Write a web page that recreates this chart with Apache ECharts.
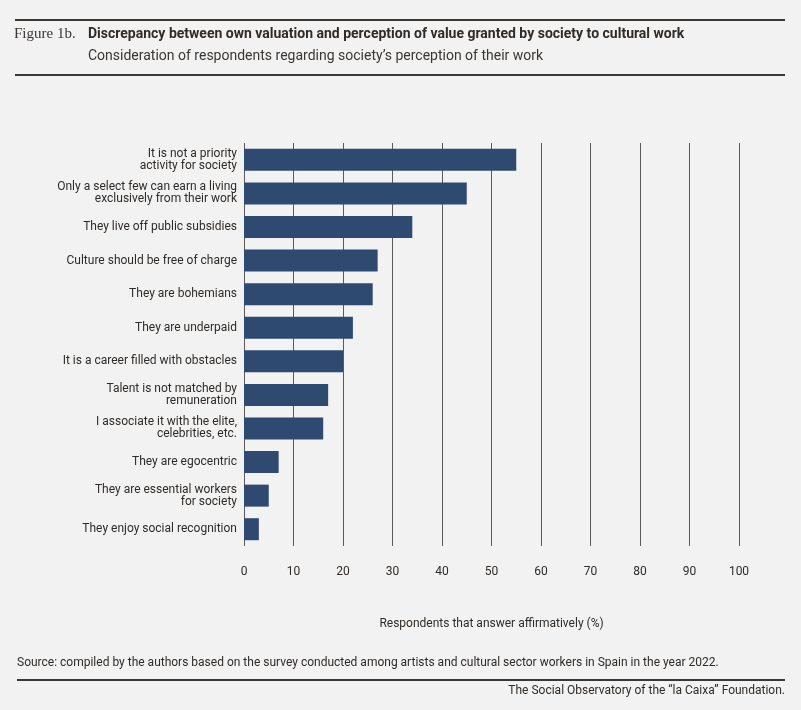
<!DOCTYPE html>
<html>
<head>
<meta charset="utf-8">
<script src="https://cdn.jsdelivr.net/npm/echarts@6/dist/echarts.min.js"></script>
<style>
html,body{margin:0;padding:0;background:#f2f2f2;}
#chart{width:801px;height:710px;}
</style>
</head>
<body>
<div id="chart"></div>
<script>
var categories = [
    'It is not a priority\nactivity for society',
    'Only a select few can earn a living\nexclusively from their work',
    'They live off public subsidies',
    'Culture should be free of charge',
    'They are bohemians',
    'They are underpaid',
    'It is a career filled with obstacles',
    'Talent is not matched by\nremuneration',
    'I associate it with the elite,\ncelebrities, etc.',
    'They are egocentric',
    'They are essential workers\nfor society',
    'They enjoy social recognition'
];
var values = [55, 45, 34, 27, 26, 22, 20, 17, 16, 7, 5, 3];
var ticks = [0, 10, 20, 30, 40, 50, 60, 70, 80, 90, 100];

var myChart = echarts.init(document.getElementById('chart'));
var font = 'Roboto, "Liberation Sans", sans-serif';

var option = {
    backgroundColor: '#f2f2f2',
    textStyle: {fontFamily: font},
    graphic: [
        {type: 'line', shape: {x1: 15, y1: 20, x2: 785, y2: 20}, style: {stroke: '#3a3633', lineWidth: 2}},
        {type: 'line', shape: {x1: 15, y1: 75, x2: 785, y2: 75}, style: {stroke: '#3a3633', lineWidth: 2}},
        {type: 'text', left: 14, top: 27, style: {text: 'Figure 1b.', font: '15px "Liberation Serif", serif', fill: '#3a3633'}},
        {type: 'text', left: 88, top: 27, style: {text: 'Discrepancy between own valuation and perception of value granted by society to cultural work', font: 'bold 14px ' + font, fill: '#2f2b28'}},
        {type: 'text', left: 88, top: 49, style: {text: 'Consideration of respondents regarding society\u2019s perception of their work', font: '14px ' + font, fill: '#3a3633'}},
        {type: 'text', left: 17, top: 657, style: {text: 'Source: compiled by the authors based on the survey conducted among artists and cultural sector workers in Spain in the year 2022.', font: '12px ' + font, fill: '#2f2b28'}},
        {type: 'line', shape: {x1: 17, y1: 680, x2: 785, y2: 680}, style: {stroke: '#3a3633', lineWidth: 2}},
        {type: 'text', right: 16, top: 685, style: {text: 'The Social Observatory of the \u201cla Caixa\u201d Foundation.', font: '12px ' + font, fill: '#2f2b28', align: 'right'}}
    ],
    grid: {left: 244, right: 62, top: 143, bottom: 164, containLabel: false},
    xAxis: {
        type: 'value',
        min: 0,
        max: 100,
        interval: 10,
        name: 'Respondents that answer affirmatively (%)',
        nameLocation: 'middle',
        nameGap: 72,
        nameTextStyle: {color: '#2f2b28', fontSize: 12},
        axisLine: {show: false},
        axisTick: {show: false},
        axisLabel: {color: '#2f2b28', fontSize: 12, margin: 20,
            formatter: function (v) { return ticks.indexOf(v) >= 0 ? String(v) : ''; }},
        splitLine: {show: true, lineStyle: {color: '#5a5a5a', width: 1}}
    },
    yAxis: {
        type: 'category',
        inverse: true,
        data: categories,
        axisLine: {show: false},
        axisTick: {show: false},
        axisLabel: {color: '#2f2b28', fontSize: 12, lineHeight: 12, margin: 7}
    },
    series: [{
        type: 'bar',
        data: values,
        barWidth: 22,
        itemStyle: {color: '#2e4a70'},
        z: 3
    }]
};
myChart.setOption(option);
</script>
</body>
</html>
